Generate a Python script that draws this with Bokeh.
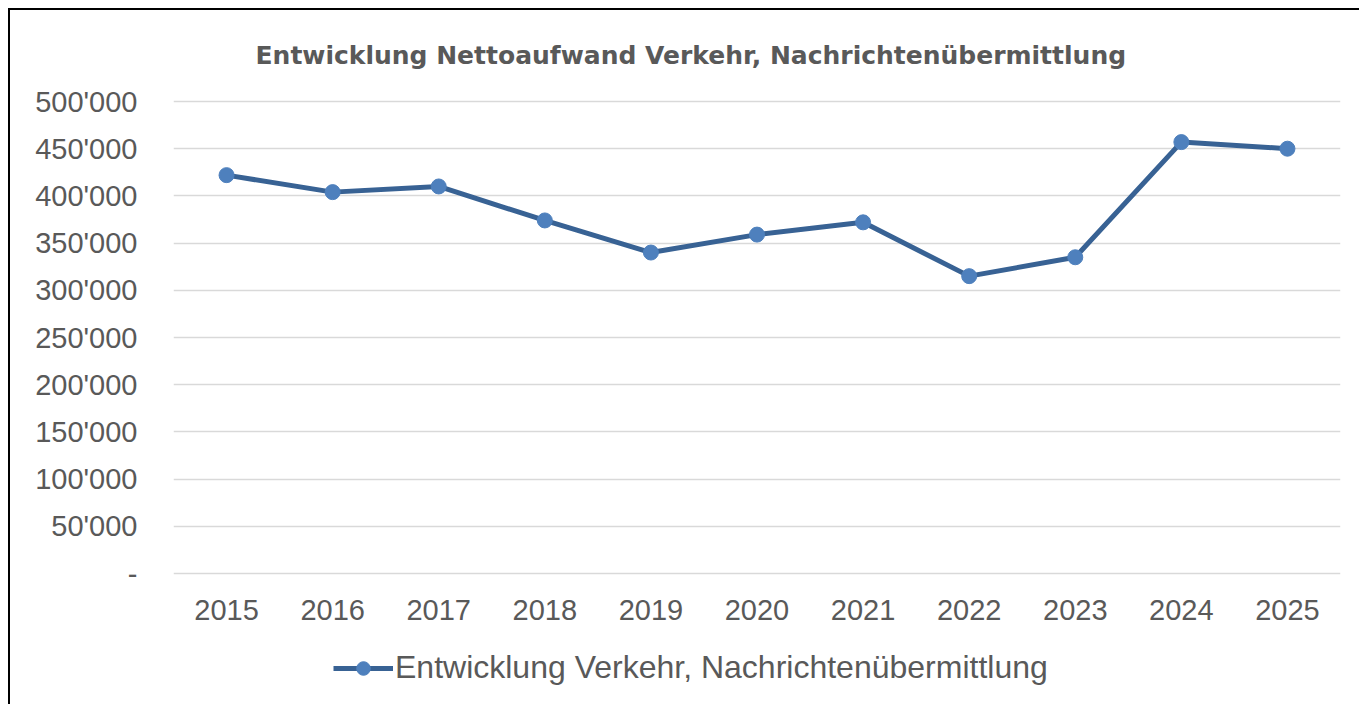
from bokeh.plotting import figure
from bokeh.models import FixedTicker, CustomJSTickFormatter, Legend, LegendItem
from bokeh.embed import file_html
from bokeh.resources import INLINE

years = ["2015", "2016", "2017", "2018", "2019", "2020", "2021", "2022", "2023", "2024", "2025"]
values = [422000, 404000, 410000, 374000, 340000, 359000, 372000, 315000, 335000, 457000, 450000]
y_ticks = [0, 50000, 100000, 150000, 200000, 250000, 300000, 350000, 400000, 450000, 500000]

title_text = "Entwicklung Nettoaufwand Verkehr, Nachrichtenübermittlung"
series_name = "Entwicklung Verkehr, Nachrichtenübermittlung"

TEXT = "#595959"
FONT = "Liberation Sans"

# 472 px per 500'000; the frame extends 4 px above the top gridline and
# 131 px below the zero line so that axis labels and legend sit inside it
k = 500000 / 472

p = figure(x_range=years, y_range=(-131 * k, 500000 + 4 * k),
           frame_width=1167, frame_height=607,
           min_border_left=163, min_border_right=19, min_border_top=87, min_border_bottom=0,
           output_backend="svg", toolbar_location=None, title=title_text)
p.styles = {"margin-left": "8px", "margin-top": "8px",
            "border-left": "2px solid black", "border-top": "2px solid black"}

p.title.align = "left"
p.title.text_font = "DejaVu Sans"
p.title.text_font_size = "25px"
p.title.text_font_style = "bold"
p.title.text_color = TEXT
p.title.standoff = 55
p.title.offset = 82

p.outline_line_color = None
p.background_fill_color = "white"
p.border_fill_color = "white"

p.xgrid.grid_line_color = None
p.ygrid.grid_line_color = "#D9D9D9"
p.ygrid.grid_line_width = 1.5

p.yaxis.ticker = FixedTicker(ticks=y_ticks)
p.yaxis.formatter = CustomJSTickFormatter(code="""
if (tick == 0) { return "-"; }
return Math.round(tick).toString().replace(/\\B(?=(\\d{3})+(?!\\d))/g, "'");
""")
for ax in (p.xaxis, p.yaxis):
    ax.axis_line_color = None
    ax.major_tick_line_color = None
    ax.minor_tick_line_color = None
    ax.major_tick_out = 0
    ax.major_label_text_font = FONT
    ax.major_label_text_font_size = "29px"
    ax.major_label_text_color = TEXT
p.yaxis.major_label_standoff = 36
p.xaxis.major_label_standoff = 26
p.xaxis.fixed_location = 0
p.x_range.range_padding = 0

line = p.line(years, values, line_color="#386294", line_width=5)
pts = p.scatter(years, values, size=15, fill_color="#4E80BD", line_color="#4E80BD")

legend = Legend(items=[LegendItem(label=series_name, renderers=[line, pts])],
                location=(160, 18), orientation="horizontal",
                label_text_font=FONT, label_text_font_size="32px", label_text_color=TEXT,
                glyph_width=60, glyph_height=34, label_standoff=2,
                border_line_color=None, background_fill_alpha=0, padding=0, margin=0)
p.add_layout(legend)

open("out.html", "w").write(file_html(p, INLINE))
